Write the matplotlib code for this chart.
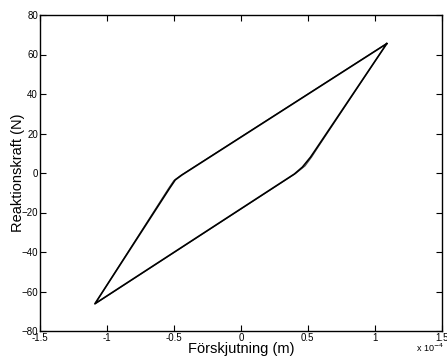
import matplotlib.pyplot as plt

plt.rcParams['font.family'] = ['Liberation Sans', 'DejaVu Sans']

# displacement in units of 1e-4 m, force in N (two cycles of the loop)
disp_1 = [1.09, -0.44, -0.49, -0.53, -1.09, 0.40, 0.46, 0.52, 0.56, 1.09]
force_1 = [65.5, -1.0, -3.5, -7.5, -66.2, -0.5, 3.0, 8.0, 12.0, 65.5]
disp_2 = [1.09, -0.45, -0.50, -0.54, -1.09, 0.41, 0.48, 0.53, 0.57, 1.09]
force_2 = [65.6, -1.3, -3.8, -7.8, -66.3, -0.2, 3.6, 8.2, 12.4, 65.6]

xticks = [-1.5, -1, -0.5, 0, 0.5, 1, 1.5]
yticks = [-80, -60, -40, -20, 0, 20, 40, 60, 80]

fig = plt.figure(figsize=(4.47, 3.58), dpi=100)
ax = fig.add_axes([40 / 447, 27 / 358, 401.7 / 447, 316 / 358])

ax.plot(disp_1, force_1, color='black', lw=1.2)
ax.plot(disp_2, force_2, color='black', lw=0.8, alpha=0.7)

ax.set_xlim(-1.5, 1.5)
ax.set_ylim(-80, 80)
ax.set_xticks(xticks)
ax.set_xticklabels([f'{t:g}' for t in xticks])
ax.set_yticks(yticks)
ax.tick_params(direction='in', length=4, width=0.8, labelsize=7, pad=1.5,
               top=True, right=True)
for sp in ax.spines.values():
    sp.set_linewidth(1.0)

ax.set_xlabel('Förskjutning (m)', fontsize=10.5, labelpad=-0.5)
ax.set_ylabel('Reaktionskraft (N)', fontsize=10.5, labelpad=-3)
fig.text(416 / 447, 1 - 354 / 358, 'x 10$^{-4}$', fontsize=6.5, va='bottom')

fig.savefig('out.png', dpi=100)
